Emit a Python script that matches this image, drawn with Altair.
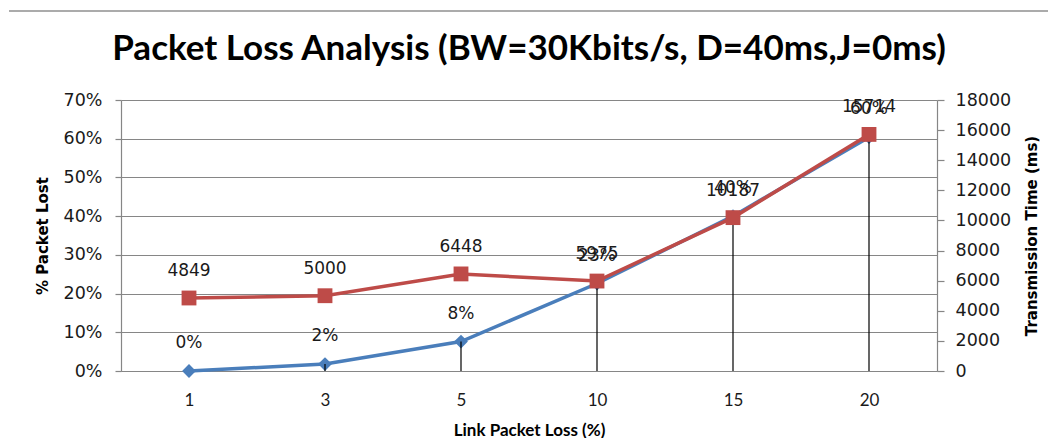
import altair as alt
import pandas as pd

# ---- data ----
link_loss = ["1", "3", "5", "10", "15", "20"]
pct_lost = [0.0, 0.018, 0.076, 0.226, 0.40, 0.604]
tx_time = [4849, 5000, 6448, 5975, 10187, 15714]

left_ticks = [0, 0.1, 0.2, 0.3, 0.4, 0.5, 0.6, 0.7]
right_ticks = [0, 2000, 4000, 6000, 8000, 10000, 12000, 14000, 16000, 18000]

df = pd.DataFrame({"loss": link_loss, "pct": pct_lost, "time": tx_time})

GRAY = "#868686"
BLUE = "#4A7EBB"
RED = "#BE4B48"
TXT = "#1a1a1a"

x = alt.X(
    "loss:N",
    sort=link_loss,
    scale=alt.Scale(type="point", padding=0.5),
    axis=alt.Axis(
        title="Link Packet Loss (%)", labelAngle=0, ticks=False, tickSize=0,
        labelPadding=21, labelFont="Lato", labelFontSize=17, labelColor=TXT,
        titleFont="Lato", titleFontSize=17, titleFontWeight="bold",
        titlePadding=14, titleColor="#000", domainColor=GRAY, domainWidth=1.2,
        grid=False,
    ),
)

yl = alt.Y(
    "pct:Q",
    scale=alt.Scale(domain=[0, 0.7], nice=False, zero=True),
    axis=alt.Axis(
        title="% Packet Lost", orient="left", values=left_ticks, format=".0%",
        grid=True, gridColor=GRAY, gridWidth=1.2, domainColor=GRAY, domainWidth=1.2,
        tickColor=GRAY, tickSize=6, tickWidth=1.2, labelPadding=13,
        labelFont="DejaVu Sans", labelFontSize=17.5, labelColor=TXT,
        titleFont="DejaVu Sans", titleFontSize=15, titleFontWeight="bold",
        titleColor="#000", titlePadding=13,
    ),
)

yr = alt.Y(
    "time:Q",
    scale=alt.Scale(domain=[0, 18000], nice=False, zero=True),
    axis=alt.Axis(
        title="Transmission Time (ms)", orient="right", values=right_ticks, format="d",
        grid=False, domainColor=GRAY, domainWidth=1.2, tickColor=GRAY, tickSize=7,
        tickWidth=1.2, labelPadding=11, labelFont="DejaVu Sans", labelFontSize=17.5,
        labelColor=TXT, titleFont="DejaVu Sans", titleFontSize=15,
        titleFontWeight="bold", titleColor="#000", titlePadding=14,
        titleAngle=270, titleBaseline="top",
    ),
)

base = alt.Chart(df)

blue_line = base.mark_line(
    color=BLUE, strokeWidth=3.5,
    point=alt.OverlayMarkDef(shape="diamond", size=190, filled=True, color=BLUE),
).encode(x=x, y=yl)

drop_rules = base.mark_rule(color="black", strokeWidth=1.2).encode(
    x=x, y=yl, y2=alt.datum(0)
)

blue_labels = base.mark_text(
    dy=-28, font="DejaVu Sans", fontSize=17, color=TXT
).encode(x=x, y=yl, text=alt.Text("pct:Q", format=".0%"))

left = alt.layer(blue_line, drop_rules, blue_labels)

red_line = base.mark_line(
    color=RED, strokeWidth=3.5,
    point=alt.OverlayMarkDef(shape="square", size=220, filled=True, color=RED),
).encode(x=x, y=yr)

red_labels = base.mark_text(
    dy=-27, font="DejaVu Sans", fontSize=17, color=TXT
).encode(x=x, y=yr, text=alt.Text("time:Q", format="d"))

right = alt.layer(red_line, red_labels)

# outer chart-area frame: top edge only
frame_src = alt.Chart(alt.Data(values=[{"k": 1}]))
frame_top = frame_src.mark_rule(color="#8f8f8f", strokeWidth=1.5).encode(
    x=alt.value(-112), x2=alt.value(927), y=alt.value(-89)
)

chart = (
    alt.layer(frame_top, left, right)
    .resolve_scale(y="independent")
    .properties(
        width=816,
        height=271,
        autosize=alt.AutoSizeParams(type="none"),
        padding={"left": 113, "top": 92, "right": 111, "bottom": 67},
        background="white",
        title=alt.TitleParams(
            text="Packet Loss Analysis (BW=30Kbits/s, D=40ms,J=0ms)",
            font="Lato", fontSize=35, fontWeight="bold", color="#000",
            anchor="middle", offset=-57,
        ),
    )
    .configure_view(strokeWidth=0)
)

chart.save("out.html", embed_options={"renderer": "svg", "actions": False})
